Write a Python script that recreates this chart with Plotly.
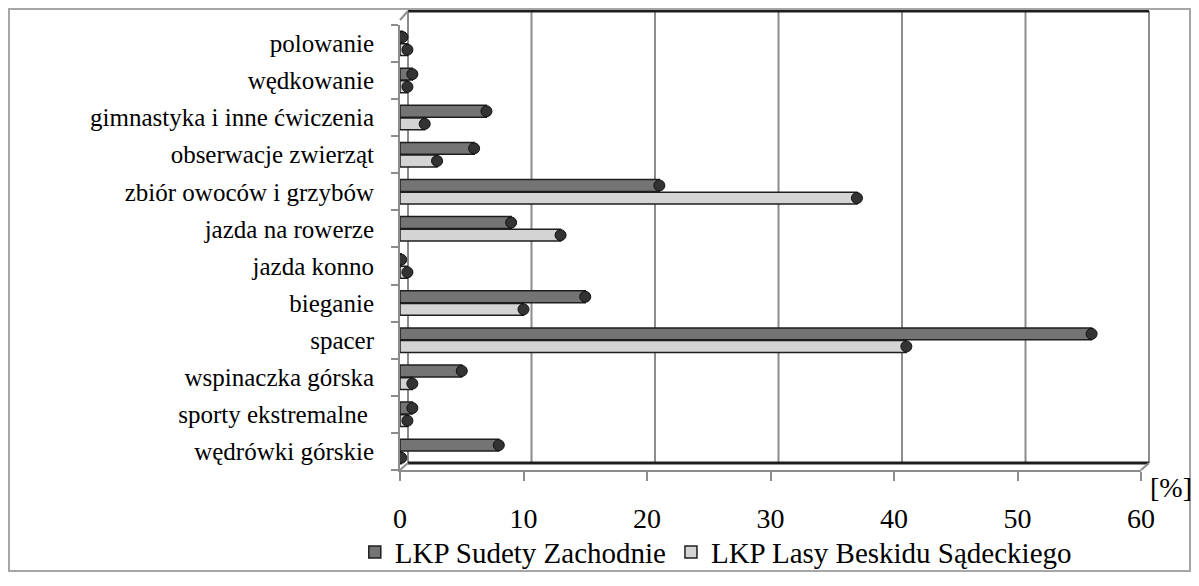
import plotly.graph_objects as go

# ---- data (bottom category first) ----
categories = [
    "wędrówki górskie",
    "sporty ekstremalne ",
    "wspinaczka górska",
    "spacer",
    "bieganie",
    "jazda konno",
    "jazda na rowerze",
    "zbiór owoców i grzybów",
    "obserwacje zwierząt",
    "gimnastyka i inne ćwiczenia",
    "wędkowanie",
    "polowanie",
]
sudety = [8, 1, 5, 56, 15, 0.1, 9, 21, 6, 7, 1, 0.2]
beskid = [0.1, 0.6, 1, 41, 10, 0.6, 13, 37, 3, 2, 0.6, 0.6]
series_names = ["LKP Sudety Zachodnie", "LKP Lasy Beskidu Sądeckiego"]
x_ticks = [0, 10, 20, 30, 40, 50, 60]
unit_label = "[%]"

FONT = "Liberation Serif, Times New Roman, Tinos, DejaVu Serif, serif"
GRID = "#8c8c8c"
DARK = "#1e1e1e"
# page has an 8px body margin, so the figure is sized to fit exactly inside it
W, H = 1183, 570
ML, MR, MB = 392, 50, 103
PLOT_TOP = 17                      # plot area top (figure px)
PAPER_W = W - ML - MR
PAPER_H = H - MB                   # top margin is 0; domain leaves the gap
PH = PAPER_H - PLOT_TOP


def px(X):
    return (X - ML) / PAPER_W


def py(Y):
    return (PAPER_H - Y) / PAPER_H


idx = list(range(len(categories)))
off = 0.17
y_s = [i + off for i in idx]
y_b = [i - off for i in idx]

fig = go.Figure()
fig.add_trace(go.Bar(
    name=series_names[0], orientation="h", x=sudety, y=y_s, width=0.32,
    marker=dict(color="#747474", line=dict(color=DARK, width=1.5)),
))
fig.add_trace(go.Bar(
    name=series_names[1], orientation="h", x=beskid, y=y_b, width=0.32,
    marker=dict(color="#d4d4d4", line=dict(color=DARK, width=1.5)),
))
# cylinder end caps
for vals, ys in ((sudety, y_s), (beskid, y_b)):
    fig.add_trace(go.Scatter(
        x=vals, y=ys, mode="markers", showlegend=False, hoverinfo="skip",
        marker=dict(symbol="circle", size=11, color="#333333",
                    line=dict(color="#111111", width=1)),
    ))

shapes = []


def grid_line(v, x_off, y0, y1, color, width):
    # vertical line attached to an axis value, shifted in pixels (3D depth)
    shapes.append(dict(type="line", xref="x", xsizemode="pixel", xanchor=v,
                       x0=x_off, x1=x_off, yref="paper", ysizemode="pixel", yanchor=0,
                       y0=y0, y1=y1, line=dict(color=color, width=width), layer="below"))


def frame_line(X0, X1, y0, y1, color, width):
    # decorative frame line: X in figure px, y in px above the plot floor
    shapes.append(dict(type="line", xref="paper", x0=px(X0), x1=px(X1),
                       yref="paper", ysizemode="pixel", yanchor=0,
                       y0=y0, y1=y1, line=dict(color=color, width=width), layer="below"))


DX, DY = 8, 7
TOP = PH + 9
XR = ML + PAPER_W
# back wall gridlines (offset for 3D depth)
for v in x_ticks[:-1]:
    grid_line(v, DX, DY, TOP, GRID, 2)
# right edge of back wall
frame_line(XR + DX, XR + DX, DY, TOP, GRID, 2)
# back wall top & floor edge
frame_line(ML + DX, XR + DX, TOP, TOP, DARK, 3)
frame_line(ML + DX, XR + DX, DY, DY, DARK, 3)
# depth diagonals
frame_line(ML, ML + DX, PH, TOP, GRID, 2)
frame_line(ML, ML + DX, 0, DY, GRID, 2)
frame_line(XR, XR + DX, 0, DY, GRID, 2)

# outer chart border
shapes.append(dict(type="rect", xref="paper", yref="paper",
                   x0=px(1), x1=px(1182), y0=py(569), y1=py(1),
                   line=dict(color="#a6a6a6", width=2), layer="below"))

fig.update_layout(
    width=W, height=H,
    margin=dict(l=ML, r=MR, t=0, b=MB, pad=0),
    paper_bgcolor="white", plot_bgcolor="white",
    barmode="overlay",
    font=dict(family=FONT, color="black"),
    shapes=shapes,
    showlegend=True,
    legend=dict(orientation="h", x=-0.061, xanchor="left",
                y=py(550), yanchor="middle",
                font=dict(family=FONT, size=29, color="black"),
                bgcolor="rgba(0,0,0,0)"),
    annotations=[dict(text=unit_label, xref="paper", yref="paper",
                      x=px(1163), y=py(485), xanchor="center", yanchor="middle",
                      showarrow=False, font=dict(family=FONT, size=28, color="black"))],
)
fig.update_xaxes(
    range=[0, 60], tickvals=x_ticks, ticks="outside", ticklen=9, tickwidth=2,
    tickcolor=GRID, showline=True, linecolor=GRID, linewidth=2,
    showgrid=False, zeroline=False, ticklabelstandoff=13, automargin=False,
    tickfont=dict(family=FONT, size=28, color="black"),
)
fig.update_yaxes(
    domain=[0, PH / PAPER_H],
    range=[-0.5, len(categories) - 0.5], tickvals=idx, ticktext=categories,
    ticks="", showline=True, linecolor=GRID, linewidth=2,
    showgrid=False, zeroline=False, ticklabelstandoff=19, automargin=False,
    minor=dict(tickvals=[i - 0.5 for i in range(len(categories) + 1)],
               ticks="outside", ticklen=7, tickwidth=2, tickcolor=GRID, showgrid=False),
    tickfont=dict(family=FONT, size=25, color="black"),
)

fig.write_html("out.html")
